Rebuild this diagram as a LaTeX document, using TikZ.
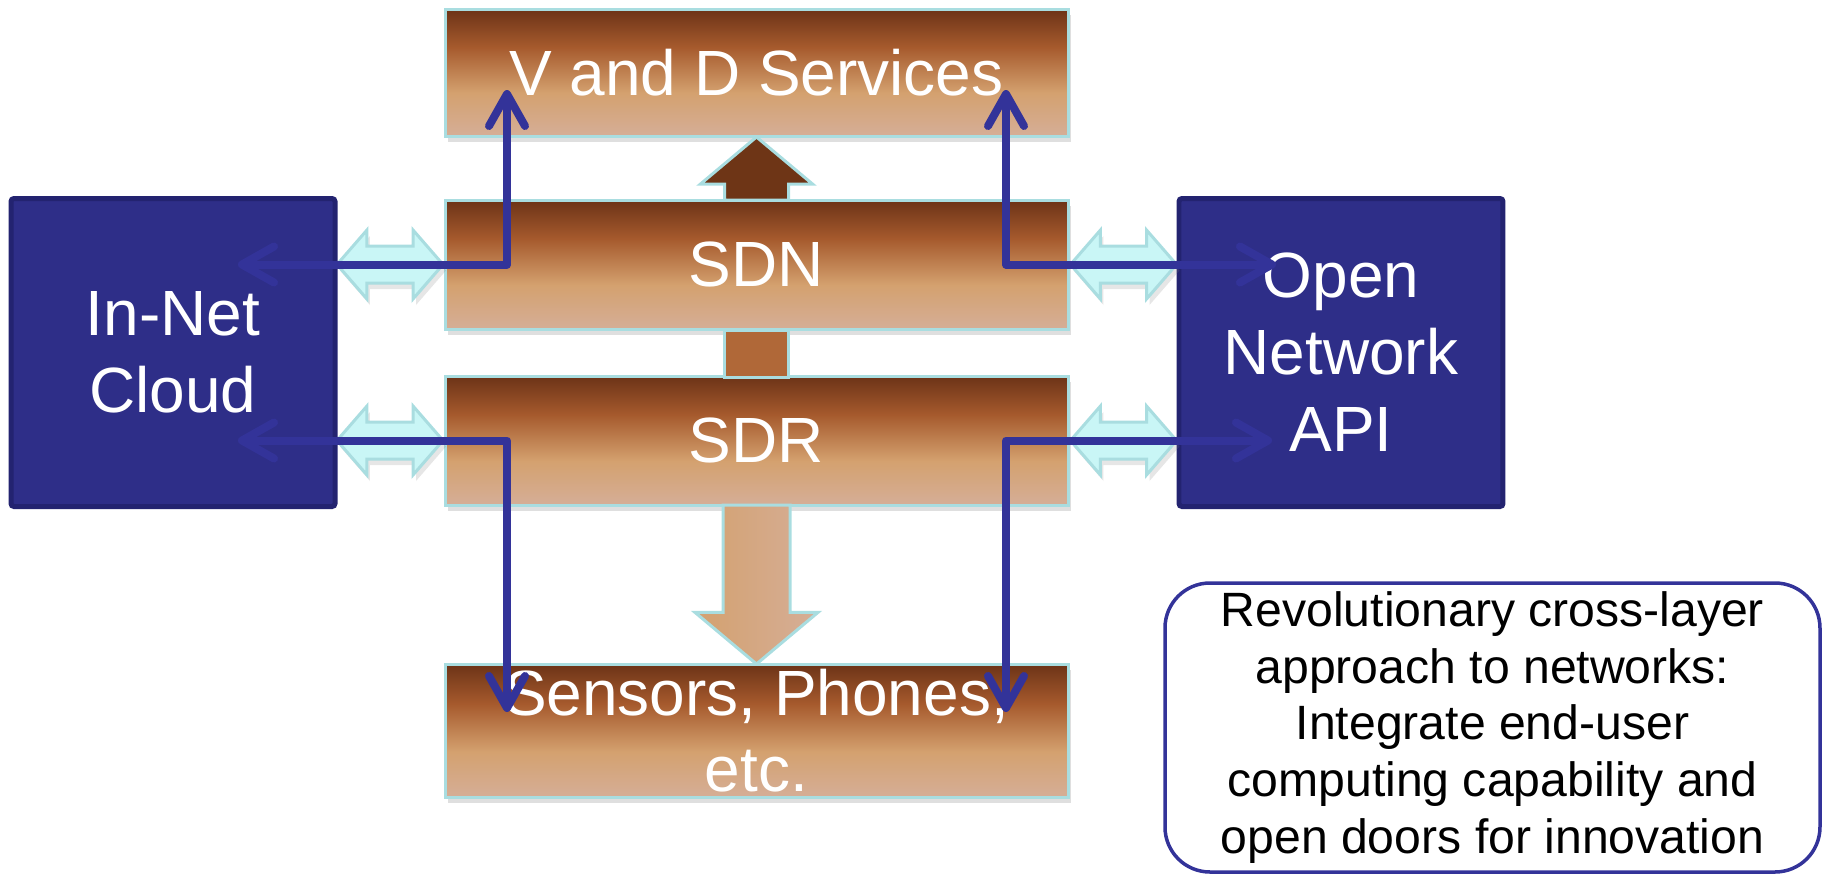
\documentclass[tikz,border=0pt]{standalone}
\usepackage{fontspec}
\setmainfont{Liberation Sans}
\usetikzlibrary{arrows.meta, positioning, calc, shapes.arrows, shadows}

\definecolor{browntop}{HTML}{6C3317}
\definecolor{brownmid}{HTML}{A65A2D}
\definecolor{browntan}{HTML}{D4A16F}
\definecolor{brownlow}{HTML}{D5AE97}
\definecolor{edgecyan}{HTML}{A9DDE0}
\definecolor{cyanfill}{HTML}{C9F6F6}
\definecolor{netblue}{HTML}{2E2E88}
\definecolor{netedge}{HTML}{232370}
\definecolor{linkblue}{HTML}{333399}
\definecolor{bardark}{HTML}{6E3516}
\definecolor{barmid}{HTML}{B06838}

\pgfdeclareverticalshading{layerfade}{100bp}{color(0bp)=(brownlow); color(25bp)=(brownlow); color(42bp)=(browntan); color(60bp)=(brownmid); color(75bp)=(browntop); color(100bp)=(browntop)}

\begin{document}
\begin{tikzpicture}[
    x=0.1mm, y=-0.1mm,
    layer/.style={rectangle, shading=layerfade, draw=edgecyan, line width=0.3mm, minimum width=62.3mm, minimum height=12.9mm, inner sep=0pt, outer sep=0pt, align=center, text=white, font=\fontsize{18.2}{21.6}\selectfont, drop shadow={opacity=0.25, shadow xshift=0.3mm, shadow yshift=-0.6mm}},
    side/.style={rectangle, fill=netblue, draw=netedge, line width=0.5mm, rounded corners=0.3mm, minimum width=32.4mm, minimum height=30.8mm, inner sep=0pt, outer sep=0pt, align=center, text=white, font=\fontsize{18.2}{21.9}\selectfont},
    link/.style={double arrow, fill=cyanfill, draw=edgecyan, line width=0.3mm, minimum height=10.6mm, minimum width=0pt, inner sep=0pt, inner ysep=1.7mm, double arrow head extend=1.6mm, double arrow tip angle=98, drop shadow={opacity=0.2, shadow xshift=0.3mm, shadow yshift=-0.6mm}},
    block/.style={single arrow, draw=edgecyan, line width=0.3mm, minimum width=0pt, inner sep=0pt, single arrow tip angle=100, outer sep=0pt},
    flow/.style={draw=linkblue, line width=0.8mm, line join=round, <->, >={Straight Barb[length=3.2mm, width=3.6mm, round]}},
    note/.style={rectangle, draw=linkblue, line width=0.35mm, rounded corners=4.5mm, minimum width=65.5mm, minimum height=28.9mm, inner sep=0pt, align=center, font=\fontsize{13.7}{16.2}\selectfont},
    node distance=6.4mm
]
    \useasboundingbox (0,0) rectangle (1827,873);

    % Layers
    \node[layer, minimum height=12.7mm] (vd) at (756.5,72.5) {V and D Services};
    \node[layer, below=6.4mm of vd] (sdn) {SDN};
    \node[layer, below=4.7mm of sdn] (sdr) {SDR};
    \node[layer, below=15.9mm of sdr, minimum height=13.3mm] (sensors) {Sensors, Phones,\\etc.};

    % Side boxes
    \coordinate (midl) at ($(sdn.west)!.5!(sdr.west)$);
    \coordinate (midr) at ($(sdn.east)!.5!(sdr.east)$);
    \node[side, left=11mm of midl] (cloud) {In-Net\\Cloud};
    \node[side, right=11.1mm of midr] (api) {Open\\Network\\API};

    % Links
    \node[link] (lnkA) at ($(cloud.east |- sdn.west)!.5!(sdn.west)$) {};
    \node[link] (lnkB) at ($(cloud.east |- sdr.west)!.5!(sdr.west)$) {};
    \node[link] (lnkC) at ($(sdn.east)!.5!(api.west |- sdn.east)$) {};
    \node[link] (lnkD) at ($(sdr.east)!.5!(api.west |- sdr.east)$) {};

    % Block arrows
    \node[block, rotate=90, fill=bardark, inner ysep=3.05mm, single arrow head extend=2.4mm, minimum height=6.3mm, anchor=tail] (up) at (sdn.north) {};
    \node[rectangle, fill=barmid, draw=edgecyan, line width=0.3mm, minimum width=6.4mm, minimum height=4.7mm, inner sep=0pt, anchor=north] (bar) at (sdn.south) {};
    \node[block, rotate=-90, left color=browntan, right color=brownlow, inner ysep=3.2mm, single arrow head extend=2.8mm, minimum height=15.9mm, anchor=tail] (down) at (sdr.south) {};

    % Flows
    \draw[flow] ([xshift=-9.7mm]cloud.east |- sdn.west) -| ([xshift=6.2mm, yshift=4.6mm]vd.south west);
    \draw[flow] ([xshift=-6.2mm, yshift=4.6mm]vd.south east) |- ([xshift=9.7mm]api.west |- sdn.east);
    \draw[flow] ([xshift=-9.7mm]cloud.east |- sdr.west) -| ([xshift=6.2mm, yshift=-4.8mm]sensors.north west);
    \draw[flow] ([xshift=9.3mm]api.west |- sdr.east) -| ([xshift=-6.2mm, yshift=-4.8mm]sensors.north east);

    % Note
    \node[note] (msg) at (1492.5,727.5) {Revolutionary cross-layer\\approach to networks:\\Integrate end-user\\computing capability and\\open doors for innovation};
\end{tikzpicture}
\end{document}
